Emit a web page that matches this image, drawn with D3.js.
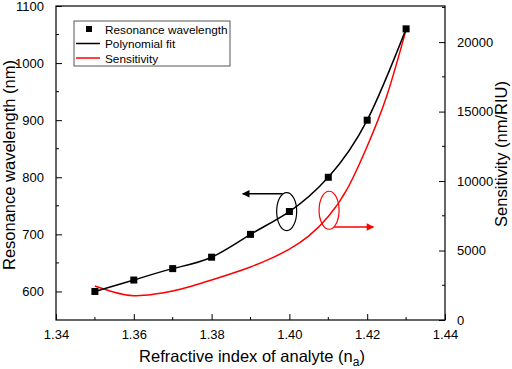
<!DOCTYPE html>
<html>
<head>
<meta charset="UTF-8">
<script src="https://d3js.org/d3.v7.min.js"></script>
<style>
  body { margin: 0; background: #fff; font-family: "Liberation Sans", Arial, sans-serif; }
</style>
</head>
<body>
<div id="chart"></div>
<script>
// measured points
const refIndex = [1.35, 1.36, 1.37, 1.38, 1.39, 1.40, 1.41, 1.42, 1.43];
const wavelength = [600, 620, 640, 660, 700, 740, 800, 900, 1060];

// sensitivity curve (every 0.005)
const sensIndex = [1.35, 1.355, 1.36, 1.365, 1.37, 1.375, 1.38, 1.385, 1.39,
                   1.395, 1.40, 1.405, 1.41, 1.415, 1.42, 1.425, 1.43];
const sensValue = [2450, 2000, 1750, 1850, 2090, 2450, 2880, 3330, 3820,
                   4400, 5100, 6050, 7450, 9500, 12500, 16100, 20900];

const xTicks = [1.34, 1.36, 1.38, 1.40, 1.42, 1.44];
const yLeftTicks = [600, 700, 800, 900, 1000, 1100];
const yRightTicks = [0, 5000, 10000, 15000, 20000];

const W = 512, H = 369;
const m = {top: 6, right: 67, bottom: 49, left: 56};

const svg = d3.select("#chart").append("svg")
    .attr("width", W).attr("height", H);

const x = d3.scaleLinear().domain([1.34, 1.44]).range([m.left, W - m.right]);
const yL = d3.scaleLinear().domain([550, 1100]).range([H - m.bottom, m.top]);
const yR = d3.scaleLinear().domain([0, 22600]).range([H - m.bottom, m.top]);

// frame
svg.append("rect")
    .attr("x", m.left).attr("y", m.top)
    .attr("width", W - m.left - m.right).attr("height", H - m.top - m.bottom)
    .attr("fill", "none").attr("stroke", "#000").attr("stroke-width", 1.2);

// minor ticks helper
function minor(step, lo, hi) {
    const out = [];
    for (let v = lo; v <= hi + 1e-9; v += step) out.push(+v.toFixed(4));
    return out;
}

// bottom axis
const bottom = svg.append("g").attr("transform", `translate(0,${H - m.bottom})`);
bottom.call(d3.axisBottom(x).tickValues(xTicks).tickFormat(d3.format(".2f")).tickSizeInner(-6).tickSizeOuter(0).tickPadding(10));
bottom.append("g").selectAll("line").data(minor(0.02, 1.35, 1.43)).enter().append("line")
    .attr("x1", d => x(d)).attr("x2", d => x(d)).attr("y1", 0).attr("y2", -3)
    .attr("stroke", "#000");

// left axis
const left = svg.append("g").attr("transform", `translate(${m.left},0)`);
left.call(d3.axisLeft(yL).tickValues(yLeftTicks).tickFormat(d3.format("d")).tickSizeInner(-6).tickSizeOuter(0).tickPadding(12));
left.append("g").selectAll("line").data(minor(100, 650, 1050)).enter().append("line")
    .attr("y1", d => yL(d)).attr("y2", d => yL(d)).attr("x1", 0).attr("x2", 3)
    .attr("stroke", "#000");

// right axis
const right = svg.append("g").attr("transform", `translate(${W - m.right},0)`);
right.call(d3.axisRight(yR).tickValues(yRightTicks).tickFormat(d3.format("d")).tickSizeInner(-6).tickSizeOuter(0).tickPadding(12));
right.append("g").selectAll("line").data(minor(5000, 2500, 22500)).enter().append("line")
    .attr("y1", d => yR(d)).attr("y2", d => yR(d)).attr("x1", 0).attr("x2", -3)
    .attr("stroke", "#000");

svg.selectAll(".domain").remove();
svg.selectAll(".tick line").attr("stroke", "#000");
svg.selectAll(".tick text")
    .attr("font-family", "Liberation Sans, Arial, sans-serif")
    .attr("font-size", "13px").attr("fill", "#000");

// axis titles
svg.append("text")
    .attr("transform", "translate(15,165) rotate(-90)")
    .attr("text-anchor", "middle").attr("font-size", "16.5px")
    .text("Resonance wavelength (nm)");

svg.append("text")
    .attr("transform", "translate(507,154) rotate(-90)")
    .attr("text-anchor", "middle").attr("font-size", "16.5px")
    .text("Sensitivity (nm/RIU)");

const xt = svg.append("text")
    .attr("x", 252).attr("y", 362)
    .attr("text-anchor", "middle").attr("font-size", "16.5px");
xt.append("tspan").text("Refractive index of analyte (n");
xt.append("tspan").attr("font-size", "12px").attr("dy", 4).text("a");
xt.append("tspan").attr("dy", -4).text(")");

const pts = refIndex.map((r, i) => [r, wavelength[i]]);
const sens = sensIndex.map((r, i) => [r, sensValue[i]]);

// sensitivity curve
svg.append("path")
    .datum(sens)
    .attr("fill", "none").attr("stroke", "#ff0000").attr("stroke-width", 1.5)
    .attr("d", d3.line().x(d => x(d[0])).y(d => yR(d[1])).curve(d3.curveNatural));

// polynomial fit
svg.append("path")
    .datum(pts)
    .attr("fill", "none").attr("stroke", "#000").attr("stroke-width", 1.5)
    .attr("d", d3.line().x(d => x(d[0])).y(d => yL(d[1])).curve(d3.curveNatural));

// markers
svg.selectAll(".pt").data(pts).enter().append("rect")
    .attr("class", "pt")
    .attr("x", d => x(d[0]) - 3.5).attr("y", d => yL(d[1]) - 3.5)
    .attr("width", 7).attr("height", 7).attr("fill", "#000");

// annotations: ellipses + arrows
const defs = svg.append("defs");
[["ahB", "#000"], ["ahR", "#ff0000"]].forEach(([id, c]) => {
    defs.append("marker").attr("id", id)
        .attr("viewBox", "0 0 10 10").attr("refX", 9).attr("refY", 5)
        .attr("markerWidth", 7).attr("markerHeight", 5).attr("orient", "auto")
        .append("path").attr("d", "M0,0L10,5L0,10Z").attr("fill", c);
});

svg.append("ellipse")
    .attr("cx", x(1.3993)).attr("cy", yL(740))
    .attr("rx", 10).attr("ry", 19)
    .attr("fill", "none").attr("stroke", "#000").attr("stroke-width", 1.2);
svg.append("line")
    .attr("x1", x(1.3983)).attr("y1", yL(771)).attr("x2", x(1.388)).attr("y2", yL(771))
    .attr("stroke", "#000").attr("stroke-width", 1.5).attr("marker-end", "url(#ahB)");

svg.append("ellipse")
    .attr("cx", x(1.4102)).attr("cy", yR(7900))
    .attr("rx", 10).attr("ry", 19)
    .attr("fill", "none").attr("stroke", "#ff0000").attr("stroke-width", 1.2);
svg.append("line")
    .attr("x1", x(1.4115)).attr("y1", yR(6690)).attr("x2", x(1.4216)).attr("y2", yR(6690))
    .attr("stroke", "#ff0000").attr("stroke-width", 1.5).attr("marker-end", "url(#ahR)");

// legend
const lg = svg.append("g").attr("transform", "translate(74,21)");
lg.append("rect").attr("width", 156).attr("height", 45)
    .attr("fill", "#fff").attr("stroke", "#555").attr("stroke-width", 1);
const rows = [
    {label: "Resonance wavelength", type: "marker", color: "#000"},
    {label: "Polynomial fit", type: "line", color: "#000"},
    {label: "Sensitivity", type: "line", color: "#ff0000"}
];
rows.forEach((r, i) => {
    const yy = 8 + i * 14.5;
    if (r.type === "marker") {
        lg.append("rect").attr("x", 12).attr("y", yy - 3).attr("width", 6).attr("height", 6).attr("fill", r.color);
    } else {
        lg.append("line").attr("x1", 2).attr("x2", 26).attr("y1", yy).attr("y2", yy)
            .attr("stroke", r.color).attr("stroke-width", 1.5);
    }
    lg.append("text").attr("x", 31).attr("y", yy + 4.5)
        .attr("font-size", "11.8px").text(r.label);
});
</script>
</body>
</html>
